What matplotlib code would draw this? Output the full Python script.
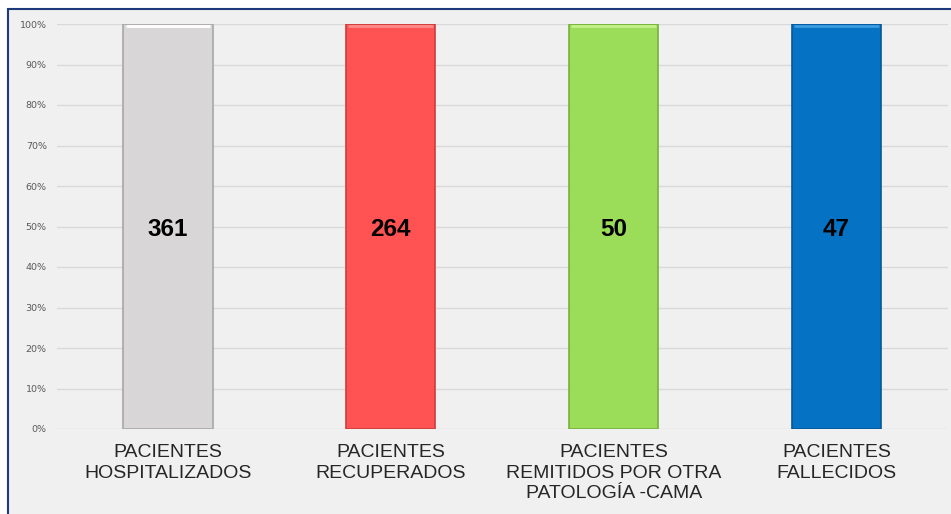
import numpy as np
import matplotlib.pyplot as plt
from matplotlib.patches import Rectangle

categories = ["PACIENTES\nHOSPITALIZADOS", "PACIENTES\nRECUPERADOS",
              "PACIENTES\nREMITIDOS POR OTRA\nPATOLOGÍA -CAMA", "PACIENTES\nFALLECIDOS"]
counts = [361, 264, 50, 47]
colors = ["#d8d6d7", "#ff5353", "#9bdc58", "#0572c4"]
edge_colors = ["#a9a7a8", "#cc3d3d", "#79b03c", "#04589a"]
top_colors = ["#ffffff", "#ff8a8a", "#c4f08c", "#3d9be0"]

# 100% stacked: each column is its own total
shares = [c / c for c in counts]

plt.rcParams['font.family'] = ['Liberation Sans', 'DejaVu Sans']
fig = plt.figure(figsize=(9.51, 5.14), dpi=100)
fig.patch.set_facecolor("white")
# chart frame
frame = Rectangle((8 / 951, -0.05), 1.1, (514 - 9) / 514 + 0.05,
                  transform=fig.transFigure, facecolor="#f0f0f0",
                  edgecolor="#1f3a7a", linewidth=1.5, zorder=-1)
fig.add_artist(frame)

ax = fig.add_axes([56.5 / 951, (514 - 429) / 514, (948 - 56.5) / 951, (429 - 24) / 514])
ax.set_zorder(2)
ax.set_facecolor("none")
x = np.arange(len(categories))
bars = ax.bar(x, shares, width=0.4, color=colors, edgecolor=edge_colors, linewidth=1.2, zorder=3)
# simple bevel look: light top strip
for xi, tc in zip(x, top_colors):
    ax.plot([xi - 0.19, xi + 0.19], [0.995, 0.995], color=tc, linewidth=2, zorder=4,
            solid_capstyle="butt")

for xi, c in zip(x, counts):
    ax.text(xi, 0.492, str(c), ha="center", va="center", fontsize=17.5, fontweight="bold",
            color="black", zorder=5)

ax.set_xlim(-0.5, len(categories) - 0.5)
ax.set_ylim(0, 1)
ax.set_yticks(np.arange(0, 1.01, 0.1))
ax.set_yticklabels([f"{int(round(v * 100))}%" for v in np.arange(0, 1.01, 0.1)],
                   fontsize=6.8, color="#595959", family="DejaVu Sans")
ax.set_xticks(x)
ax.set_xticklabels(categories, fontsize=14, color="#262626", linespacing=1.27)
ax.tick_params(axis="both", length=0)
ax.tick_params(axis="x", pad=11)
ax.tick_params(axis="y", pad=7)
ax.grid(axis="y", color="#d9d9d9", linewidth=1, zorder=0)
for s in ax.spines.values():
    s.set_visible(False)

fig.savefig("out.png", dpi=100)
